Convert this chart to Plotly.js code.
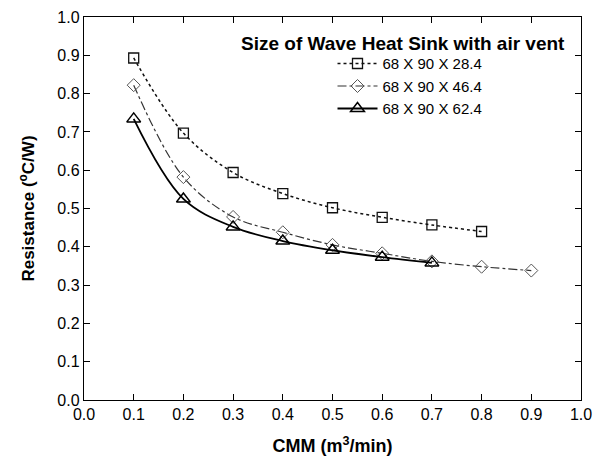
<!DOCTYPE html>
<html>
<head>
<meta charset="utf-8">
<script src="https://cdn.plot.ly/plotly-3.0.1.min.js"></script>
<style>html,body{margin:0;padding:0;background:#fff;}#chart{width:594px;height:463px;}</style>
</head>
<body>
<div id="chart"></div>
<script>
const cmmA = [0.1, 0.2, 0.3, 0.4, 0.5, 0.6, 0.7, 0.8];
const resA = [0.893, 0.697, 0.594, 0.539, 0.502, 0.477, 0.457, 0.440];
const cmmB = [0.1, 0.2, 0.3, 0.4, 0.5, 0.6, 0.7, 0.8, 0.9];
const resB = [0.822, 0.582, 0.478, 0.438, 0.405, 0.383, 0.362, 0.348, 0.338];
const cmmC = [0.1, 0.2, 0.3, 0.4, 0.5, 0.6, 0.7];
const resC = [0.734, 0.525, 0.452, 0.415, 0.391, 0.373, 0.358];
const names = ['68 X 90 X 28.4', '68 X 90 X 46.4', '68 X 90 X 62.4'];
const legendTitle = 'Size of Wave Heat Sink with air vent';

const font = 'Liberation Sans, Arial, sans-serif';
const traces = [
  {x: cmmA, y: resA, name: names[0], mode: 'lines+markers', line: {shape: 'spline', smoothing: 1, dash: 'dot', color: '#111', width: 1.5},
   marker: {symbol: 'square-open', size: 10, color: '#111', line: {width: 1.3}}},
  {x: cmmB, y: resB, name: names[1], mode: 'lines+markers', line: {shape: 'spline', smoothing: 1, dash: 'dashdot', color: '#333', width: 1.2},
   marker: {symbol: 'diamond-open', size: 10, color: '#555', line: {width: 1}}},
  {x: cmmC, y: resC, name: names[2], mode: 'lines+markers', line: {shape: 'spline', smoothing: 1, dash: 'solid', color: '#000', width: 1.8},
   marker: {symbol: 'triangle-up-open', size: 12, color: '#000', line: {width: 1.5}}}
];

const axisCommon = {
  showline: true, linecolor: '#000', linewidth: 1.2, mirror: 'ticks',
  ticks: 'inside', ticklen: 6, tickwidth: 1, tickcolor: '#000',
  showgrid: false, zeroline: false,
  tickfont: {family: font, size: 16, color: '#000'}
};

const layout = {
  width: 594, height: 463,
  margin: {l: 84, r: 13, t: 17, b: 63},
  paper_bgcolor: '#fff', plot_bgcolor: '#fff',
  showlegend: true,
  legend: {
    x: 0.5, xanchor: 'left', y: 0.921, yanchor: 'top',
    bgcolor: 'rgba(0,0,0,0)', borderwidth: 0,
    font: {family: font, size: 15, color: '#000'},
    tracegroupgap: 0, itemwidth: 40
  },
  annotations: [{
    text: '<b>' + legendTitle + '</b>', xref: 'paper', yref: 'paper',
    x: 0.642, y: 0.932, xanchor: 'center', yanchor: 'middle', showarrow: false,
    font: {family: font, size: 19, color: '#000'}
  }],
  xaxis: Object.assign({}, axisCommon, {
    range: [0, 1], dtick: 0.1, tickformat: '.1f',
    title: {text: '<b>CMM (m<sup>3</sup>/min)</b>', font: {family: font, size: 18, color: '#000'}, standoff: 17}
  }),
  yaxis: Object.assign({}, axisCommon, {
    range: [0, 1], dtick: 0.1, tickformat: '.1f',
    title: {text: '<b>Resistance (<sup>o</sup>C/W)</b>', font: {family: font, size: 17, color: '#000'}, standoff: 18}
  })
};

Plotly.newPlot('chart', traces, layout, {displayModeBar: false, staticPlot: true});
</script>
</body>
</html>
